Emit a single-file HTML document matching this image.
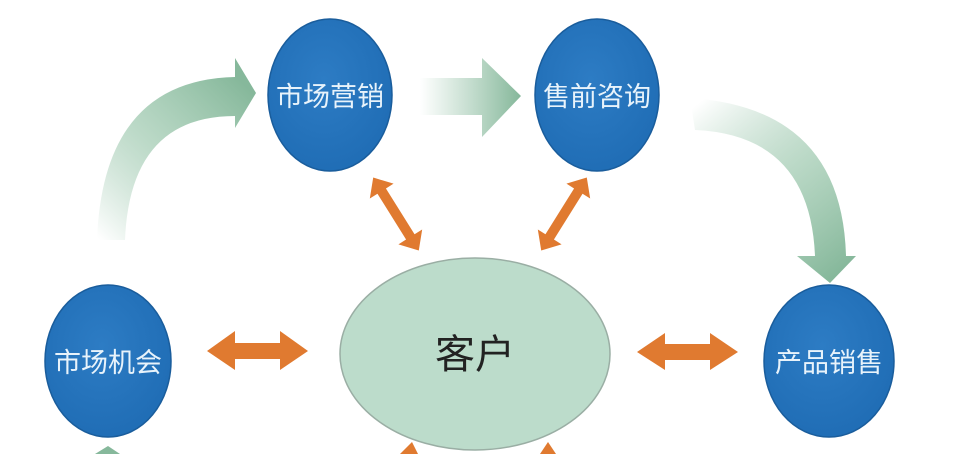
<!DOCTYPE html>
<html><head><meta charset="utf-8"><style>
html,body{margin:0;padding:0;background:#fff;}
svg{display:block}
text{font-family:"Liberation Sans","Noto Sans CJK SC",sans-serif;}
</style></head><body>
<svg width="964" height="454" viewBox="0 0 964 454" xmlns="http://www.w3.org/2000/svg">
<defs>
<linearGradient id="gl" x1="100" y1="240" x2="250" y2="90" gradientUnits="userSpaceOnUse">
<stop offset="0" stop-color="#8fbfa3" stop-opacity="0"/><stop offset="0.5" stop-color="#a9cfb8" stop-opacity="0.8"/><stop offset="1" stop-color="#86b89b"/></linearGradient>
<linearGradient id="gt" x1="420" y1="0" x2="520" y2="0" gradientUnits="userSpaceOnUse">
<stop offset="0" stop-color="#8fbfa3" stop-opacity="0"/><stop offset="1" stop-color="#86b89b"/></linearGradient>
<linearGradient id="gr" x1="690" y1="110" x2="830" y2="280" gradientUnits="userSpaceOnUse">
<stop offset="0" stop-color="#8fbfa3" stop-opacity="0"/><stop offset="0.5" stop-color="#a9cfb8" stop-opacity="0.8"/><stop offset="1" stop-color="#86b89b"/></linearGradient>
<radialGradient id="bl" cx="0.45" cy="0.4" r="0.7"><stop offset="0" stop-color="#2d7cc4"/><stop offset="1" stop-color="#1e6bb3"/></radialGradient>
</defs>
<!-- green arrows -->
<path d="M97,240 Q103,80 235,77 L235,58 L256,93 L235,128 L235,116 Q130,116 125,240 Z" fill="url(#gl)"/>
<path d="M420,78 L482,78 L482,58 L521,96 L482,137 L482,115 L420,115 Z" fill="url(#gt)"/>
<path d="M690,98 Q842,108 846,256 L856,256 L830,283 L797,256 L815,256 Q810,135 695,130 Z" fill="url(#gr)"/>
<!-- orange arrows -->
<g fill="#e07a30">
<path d="M207,351 L235,331 L235,343 L280,343 L280,331 L308,351 L280,370 L280,359 L235,359 L235,370 Z"/>
<path d="M637,352 L665,333 L665,344 L710,344 L710,333 L738,352 L710,370 L710,360 L665,360 L665,370 Z"/>
<g transform="translate(396,214) rotate(58)"><path d="M-43,0 L-27,-14 L-27,-5 L27,-5 L27,-14 L43,0 L27,14 L27,5 L-27,5 L-27,14 Z"/></g>
<g transform="translate(564,214) rotate(-58)"><path d="M-43,0 L-27,-14 L-27,-5 L27,-5 L27,-14 L43,0 L27,14 L27,5 L-27,5 L-27,14 Z"/></g>
<path d="M400,454 L412,442 L418,454 Z"/>
<path d="M540,454 L548,442 L556,454 Z"/>
</g>
<path d="M95,454 L108,446 L120,454 Z" fill="#86b89b"/>
<!-- center ellipse -->
<ellipse cx="475" cy="354" rx="135" ry="96" fill="#bcdccb" stroke="#9aaea4" stroke-width="1.5"/>
<text x="475" y="368" font-size="40" text-anchor="middle" fill="#222">客户</text>
<!-- blue circles -->
<g stroke="#1a5d9c" stroke-width="1.5" fill="url(#bl)">
<ellipse cx="330" cy="95" rx="62" ry="76"/>
<ellipse cx="597" cy="95" rx="62" ry="76"/>
<ellipse cx="108" cy="361" rx="63" ry="76"/>
<ellipse cx="829" cy="361" rx="65" ry="76"/>
</g>
<g fill="#e8f3fb" font-size="27" text-anchor="middle">
<text x="330" y="106">市场营销</text>
<text x="597" y="106">售前咨询</text>
<text x="108" y="372">市场机会</text>
<text x="829" y="372">产品销售</text>
</g>
</svg>
</body></html>
